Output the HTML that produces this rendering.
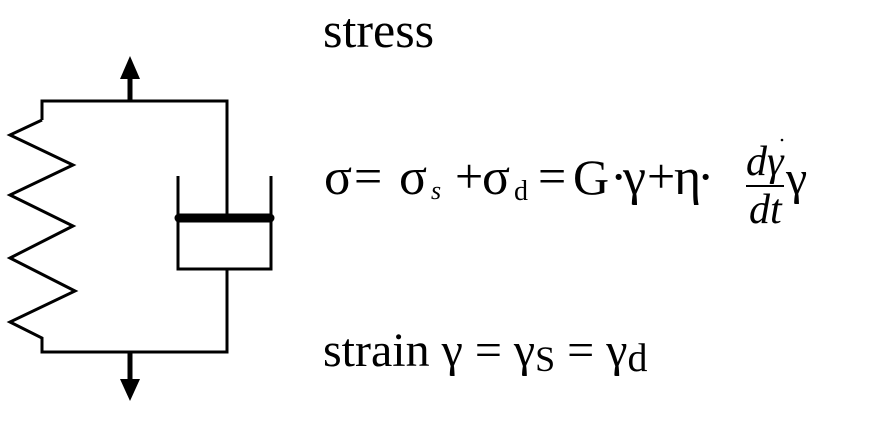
<!DOCTYPE html>
<html><head><meta charset="utf-8"><style>
html,body{margin:0;padding:0;background:#fff;}
svg{display:block;}
text{font-family:"Liberation Serif",serif;fill:#000;}
</style></head><body>
<svg width="887" height="426" viewBox="0 0 887 426">
  <g fill="none" stroke="#000" stroke-width="3">
    <line x1="130" y1="101" x2="130" y2="76" stroke-width="5"/>
    <polygon points="130,56 120,79 140,79" fill="#000" stroke="none"/>
    <polyline points="42,120 42,101 227,101 227,216"/>
    <polyline points="42,120 10,135 73,165 10,195 73,226 10,258 75,291 10,322 42,338 42,352 227,352 227,269"/>
    <line x1="130" y1="352" x2="130" y2="380" stroke-width="5"/>
    <polygon points="130,401 120,379 140,379" fill="#000" stroke="none"/>
    <polyline points="178,176 178,269 271,269 271,176"/>
    <line x1="179" y1="218" x2="270" y2="218" stroke-width="9" stroke-linecap="round"/>
  </g>
  <text x="323" y="47" font-size="50">stress</text>
  <g font-size="52" text-anchor="start">
    <text x="324" y="194">σ</text>
    <text x="354" y="193" font-size="50">=</text>
    <text x="399" y="194">σ</text>
    <text x="431" y="199" font-size="26" font-style="italic">s</text>
    <text x="455" y="193" font-size="50">+</text>
    <text x="482" y="194">σ</text>
    <text x="514" y="200" font-size="28">d</text>
    <text x="538" y="193" font-size="50">=</text>
    <text x="573" y="194" font-size="50">G</text>
    <text x="610" y="194">·</text>
    <text x="623" y="194">γ</text>
    <text x="647" y="193" font-size="50">+</text>
    <text x="674" y="194">η</text>
    <text x="697" y="194">·</text>
    <text x="746" y="175" font-size="42" font-style="italic">dγ</text>
    <line x1="746" y1="186" x2="784" y2="186" stroke="#000" stroke-width="2"/>
    <text x="749" y="223" font-size="42" font-style="italic">dt</text>
    <text x="786" y="194" font-size="48">γ</text>
    <circle cx="782" cy="140" r="1.3" fill="#000"/>
  </g>
  <g font-size="48">
    <text x="323" y="366">strain γ = γ<tspan font-size="36" dy="5">S</tspan><tspan dy="-5"> = γ</tspan><tspan font-size="40" dy="5">d</tspan></text>
  </g>
</svg>
</body></html>
